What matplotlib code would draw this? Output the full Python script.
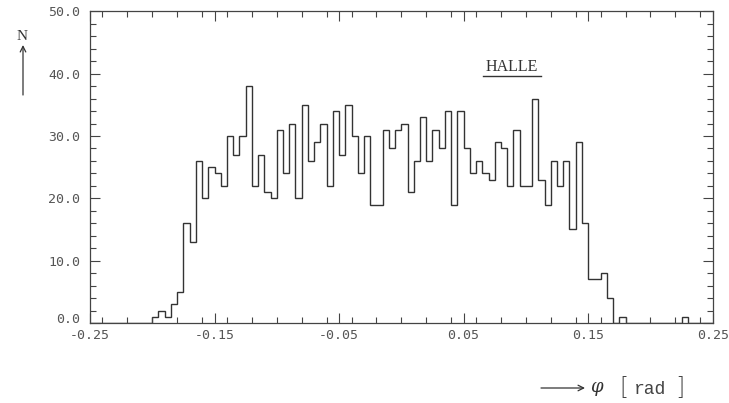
import numpy as np
import matplotlib
matplotlib.use("Agg")
import matplotlib.pyplot as plt
import matplotlib.transforms as mtransforms
from matplotlib.ticker import FixedLocator, FixedFormatter, MultipleLocator

# ---- data (counts per 0.005 rad bin, from -0.25 to 0.25) ----
bin_edges = np.linspace(-0.25, 0.25, 101)
counts = [
    0, 0, 0, 0, 0, 0, 0, 0, 0, 0,
    1, 2, 1, 3, 5, 16, 13, 26, 20, 25,
    24, 22, 30, 27, 30, 38, 22, 27, 21, 20,
    31, 24, 32, 20, 35, 26, 29, 32, 22, 34,
    27, 35, 30, 24, 30, 19, 19, 31, 28, 31,
    32, 21, 26, 33, 26, 31, 28, 34, 19, 34,
    28, 24, 26, 24, 23, 29, 28, 22, 31, 22,
    22, 36, 23, 19, 26, 22, 26, 15, 29, 16,
    7, 7, 8, 4, 0, 1, 0, 0, 0, 0,
    0, 0, 0, 0, 0, 1, 0, 0, 0, 0,
]
x_ticks = [-0.25, -0.15, -0.05, 0.05, 0.15, 0.25]
x_labels = ["-0.25", "-0.15", "-0.05", "0.05", "0.15", "0.25"]
y_ticks = [0, 10, 20, 30, 40, 50]
y_labels = ["0.0", "10.0", "20.0", "30.0", "40.0", "50.0"]

plt.rcParams["axes.unicode_minus"] = False

W, H = 729, 403
fig = plt.figure(figsize=(W / 100, H / 100), dpi=100)
ax = fig.add_axes([90 / W, (H - 323) / H, 622.7 / W, (323 - 11.3) / H])

ink = "#333333"
ax.stairs(counts, bin_edges, baseline=0, fill=False, color=ink, linewidth=1.0)

ax.set_xlim(-0.25, 0.25)
ax.set_ylim(0, 50)

for s in ax.spines.values():
    s.set_color("#444444")
    s.set_linewidth(0.9)

ax.xaxis.set_major_locator(FixedLocator(x_ticks))
ax.xaxis.set_major_formatter(FixedFormatter(x_labels))
ax.xaxis.set_minor_locator(MultipleLocator(0.02))
ax.yaxis.set_major_locator(FixedLocator(y_ticks))
ax.yaxis.set_major_formatter(FixedFormatter(y_labels))
ax.yaxis.set_minor_locator(MultipleLocator(2))

ax.tick_params(which="both", direction="in", top=True, right=True,
               color="#444444", width=0.8)
ax.tick_params(which="major", length=7)
ax.tick_params(which="minor", length=4)
ax.tick_params(axis="x", which="major", pad=4, labelsize=9.5, labelcolor="#555555")
ax.tick_params(axis="y", which="major", pad=7, labelsize=9.5, labelcolor="#555555")
for lab in ax.get_xticklabels() + ax.get_yticklabels():
    lab.set_family("DejaVu Sans Mono")

# lift the "0.0" label a little so it sits above "-0.25", as in the original
fig.canvas.draw()
ylabs = ax.get_yticklabels()
ylabs[0].set_transform(ylabs[0].get_transform() +
                       mtransforms.ScaledTranslation(0, 5 / 100, fig.dpi_scale_trans))

# HALLE label with underline
ax.text(512, H - 67, "HALLE", transform=None, ha="center", va="center",
        family="Liberation Serif", fontsize=11.5, color="#333333")
fig.add_artist(plt.Line2D([483 / W, 541 / W], [(H - 76) / H, (H - 76) / H],
                          color="#333333", linewidth=1.0))

# y axis label: N with up arrow
fig.text(22.5 / W, (H - 37) / H, "N", ha="center", va="center",
         family="Liberation Serif", fontsize=11, color="#333333")
ax.annotate("", xy=(23, H - 45), xycoords="figure pixels",
            xytext=(23, H - 95), textcoords="figure pixels",
            arrowprops=dict(arrowstyle="->", color="#333333", lw=0.9,
                            mutation_scale=10, shrinkA=0, shrinkB=0))

# x axis label: --> phi [ rad ]
ax.annotate("", xy=(585, H - 388), xycoords="figure pixels",
            xytext=(541, H - 388), textcoords="figure pixels",
            arrowprops=dict(arrowstyle="->", color="#333333", lw=0.9,
                            mutation_scale=10, shrinkA=0, shrinkB=0))
fig.text(596 / W, (H - 387) / H, "\u03c6", ha="center", va="center",
         family="DejaVu Serif", style="italic", fontsize=13, color="#333333")
fig.text(623.5 / W, (H - 388) / H, "[", ha="center", va="center",
         family="DejaVu Sans", fontsize=17, color="#444444", fontweight="light")
fig.text(649.5 / W, (H - 389) / H, "rad", ha="center", va="center",
         family="Liberation Mono", fontsize=13, color="#444444")
fig.text(680 / W, (H - 388) / H, "]", ha="center", va="center",
         family="DejaVu Sans", fontsize=17, color="#444444", fontweight="light")

fig.savefig("out.png", dpi=100)
